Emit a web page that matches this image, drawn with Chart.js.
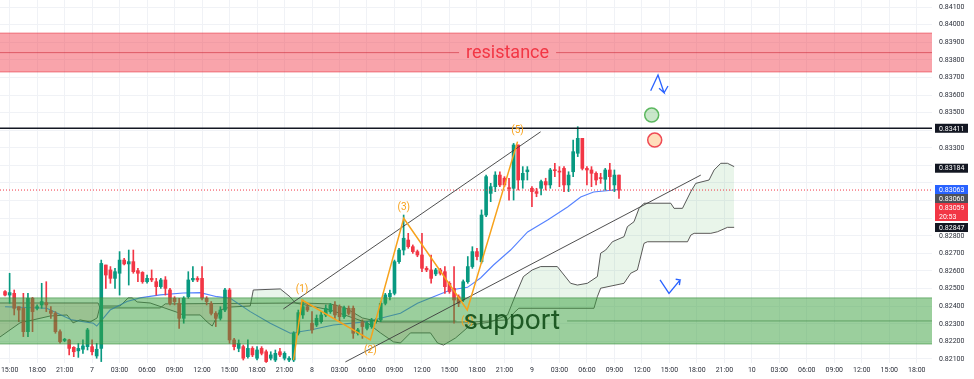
<!DOCTYPE html>
<html><head><meta charset="utf-8">
<script src="https://cdn.jsdelivr.net/npm/chart.js@4.4.1/dist/chart.umd.min.js"></script>
<style>
html,body{margin:0;padding:0;background:#fff;overflow:hidden;}
#wrap{position:relative;width:974px;height:379px;}
canvas{display:block;}
</style></head><body>
<div id="wrap"><canvas id="chart" width="974" height="379"></canvas></div>
<script>
// ---------- data (hours relative to day 7 00:00, prices) ----------
const firstBarHour = -9.5;     // first 30-minute candle: day 6, 14:30
const barHours = 0.5;          // 30-minute candles
const xRange = [-10.05, 91.66];
const yRange = [0.82077, 0.84140];

const opens = [
.82483,.82463,.82473,.82397,.82388,.82255,.82445,.82388,.82407,.82420,
.82374,.82359,.82255,.82205,.82208,.82166,.82146,.82155,.82170,.82170,
.82117,.82160,.82634,.82606,.82558,.82587,.82662,.82640,.82653,.82602,
.82592,.82539,.82558,.82539,.82511,.82549,.82492,.82445,.82416,.82331,
.82454,.82549,.82558,.82558,.82445,.82416,.82359,.82331,.82378,.82492,
.82208,.82160,.82170,.82113,.82160,.82104,.82160,.82141,.82104,.82094,
.82141,.82104,.82094,.82094,.82246,.82350,.82397,.82303,.82293,.82312,
.82350,.82369,.82407,.82397,.82340,.82388,.82388,.82246,.82312,.82274,
.82284,.82312,.82322,.82416,.82454,.82473,.82653,.82719,.82776,.82738,
.82710,.82691,.82615,.82606,.82583,.82606,.82596,.82530,.82501,.82454,
.82435,.82539,.82625,.82710,.82653,.82918,.83041,.83079,.83145,.83127,
.83072,.83070,.83316,.83117,.83164,.83070,.83051,.83070,.83108,.83089,
.83174,.83166,.83183,.83089,.83164,.83269,.83354,.83183,.83174,.83155,
.83127,.83121,.83174,.83089,.83145];
const highs = [
.82488,.82587,.82492,.82397,.82473,.82473,.82450,.82407,.82530,.82539,
.82397,.82369,.82265,.82217,.82212,.82170,.82189,.82208,.82274,.82208,
.82189,.82662,.82634,.82625,.82615,.82710,.82672,.82719,.82719,.82615,
.82596,.82577,.82606,.82558,.82558,.82568,.82501,.82454,.82445,.82454,
.82596,.82625,.82568,.82625,.82454,.82426,.82369,.82397,.82501,.82501,
.82217,.82208,.82179,.82208,.82170,.82170,.82170,.82151,.82141,.82151,
.82160,.82141,.82113,.82255,.82378,.82435,.82416,.82369,.82350,.82369,
.82407,.82416,.82426,.82407,.82401,.82401,.82401,.82274,.82322,.82312,
.82331,.82331,.82426,.82473,.82492,.82662,.82729,.82918,.82814,.82748,
.82719,.82814,.82625,.82691,.82615,.82615,.82625,.82539,.82625,.82464,
.82549,.82682,.82738,.82729,.82947,.83145,.83098,.83164,.83164,.83136,
.83127,.83325,.83316,.83193,.83193,.83079,.83070,.83117,.83127,.83183,
.83212,.83193,.83193,.83164,.83344,.83420,.83354,.83193,.83193,.83164,
.83155,.83183,.83212,.83174,.83145];
const lows = [
.82458,.82416,.82350,.82312,.82227,.82227,.82255,.82378,.82388,.82369,
.82331,.82246,.82189,.82198,.82123,.82113,.82109,.82132,.82151,.82123,
.82104,.82085,.82501,.82530,.82501,.82463,.82634,.82520,.82587,.82539,
.82530,.82530,.82539,.82463,.82501,.82463,.82407,.82407,.82274,.82303,
.82445,.82539,.82539,.82435,.82407,.82350,.82284,.82321,.82369,.82189,
.82151,.82141,.82094,.82104,.82113,.82094,.82123,.82080,.82094,.82085,
.82113,.82094,.82085,.82085,.82236,.82331,.82369,.82246,.82284,.82303,
.82340,.82359,.82331,.82312,.82331,.82350,.82217,.82236,.82217,.82265,
.82274,.82303,.82312,.82407,.82435,.82464,.82643,.82691,.82729,.82700,
.82681,.82596,.82596,.82530,.82573,.82577,.82473,.82473,.82303,.82397,
.82426,.82530,.82615,.82663,.82644,.82909,.82994,.83051,.83079,.83079,
.83003,.83003,.83060,.83070,.83117,.82966,.83022,.83032,.83060,.83070,
.83136,.83079,.83051,.83051,.83136,.83250,.83174,.83089,.83079,.83089,
.83098,.83060,.83060,.83051,.83013];
const closes = [
.82463,.82477,.82388,.82378,.82255,.82445,.82369,.82397,.82426,.82407,
.82359,.82255,.82198,.82212,.82160,.82141,.82160,.82174,.82265,.82141,
.82155,.82643,.82577,.82558,.82596,.82662,.82640,.82653,.82596,.82587,
.82539,.82558,.82549,.82511,.82549,.82501,.82416,.82426,.82331,.82445,
.82549,.82558,.82549,.82445,.82426,.82359,.82331,.82378,.82492,.82208,
.82170,.82189,.82104,.82160,.82123,.82151,.82132,.82085,.82123,.82132,
.82123,.82132,.82104,.82246,.82363,.82397,.82378,.82265,.82331,.82350,
.82388,.82407,.82350,.82340,.82388,.82359,.82246,.82265,.82284,.82303,
.82322,.82322,.82416,.82464,.82473,.82653,.82719,.82786,.82738,.82710,
.82691,.82615,.82606,.82558,.82606,.82587,.82511,.82483,.82435,.82416,
.82539,.82625,.82710,.82682,.82918,.83136,.83079,.83145,.83089,.83089,
.83068,.83316,.83117,.83155,.83174,.83051,.83041,.83108,.83089,.83174,
.83170,.83162,.83089,.83145,.83278,.83354,.83183,.83174,.83155,.83117,
.83125,.83174,.83136,.83145,.83059];

// moving average (blue): [hour, price]
const maLine = [[-9.5,.82397],[-4.95,.82388],[-2.22,.82322],[0.14,.82303],[0.51,.82287],[1.97,.82378],[3.79,.82426],[5.24,.82447],[7.43,.82464],[9.94,.82475],[11.8,.82477],[13.62,.82454],[15.08,.82445],[17.26,.82369],[19.44,.82303],[21.63,.82246],[23.82,.82265],[26.33,.82293],[30.04,.82312],[31.47,.82331],[33.65,.82360],[35.51,.82416],[37.26,.82454],[39.11,.82492],[40.97,.82507],[42.39,.82560],[43.81,.82634],[45.67,.82719],[47.53,.82822],[49.71,.82890],[51.89,.82964],[53.32,.83020],[54.73,.83049],[57.5,.83063]];

// Ichimoku cloud spans: [hour, price]
const spanA = [[-10.05,.82225],[-7.87,.82305],[-4.59,.82344],[-2.73,.82350],[-2.08,.82305],[-1.31,.82322],[-0.22,.82310],[0.55,.82333],[0.87,.82401],[3.06,.82401],[3.93,.82447],[4.37,.82447],[4.92,.82424],[6.34,.82418],[9.18,.82367],[9.94,.82350],[11.8,.82350],[12.56,.82310],[13.11,.82287],[13.98,.82378],[15.08,.82395],[17.26,.82401],[17.59,.82492],[20.54,.82498],[21.63,.82452],[22.18,.82418],[26.0,.82378],[30.04,.82305],[31.47,.82248],[32.89,.82197],[33.65,.82191],[34.74,.82248],[36.93,.82248],[37.69,.82191],[38.35,.82179],[39.66,.82219],[41.3,.82293],[43.48,.82310],[45.34,.82350],[46.22,.82464],[47.07,.82568],[48.04,.82606],[48.95,.82625],[50.77,.82625],[52.22,.82530],[52.96,.82520],[54.05,.82530],[55.14,.82568],[55.5,.82701],[56.05,.82719],[56.78,.82766],[58.05,.82795],[58.42,.82852],[59.14,.82880],[59.69,.82956],[60.23,.82985],[63.15,.82985],[63.51,.82956],[64.43,.82956],[65.34,.83051],[65.88,.83098],[67.33,.83117],[67.88,.83174],[68.61,.83212],[69.34,.83212],[70.07,.83193]];
const spanB = [[-10.05,.82418],[0.66,.82418],[0.87,.82390],[7.43,.82390],[7.98,.82413],[22.72,.82418],[26.0,.82413],[27.64,.82390],[29.5,.82333],[31.47,.82310],[41.3,.82310],[43.48,.82316],[45.34,.82322],[46.0,.82360],[46.57,.82388],[54.77,.82388],[55.14,.82454],[55.5,.82502],[58.05,.82530],[58.78,.82587],[59.51,.82606],[60.23,.82757],[60.6,.82766],[64.98,.82766],[65.34,.82804],[65.7,.82814],[67.52,.82814],[68.25,.82823],[69.34,.82848],[70.07,.82848]];

// Elliott wave count
const wavePoints = [[21.99,.82094],[22.91,.82435],[30.37,.82208],[34.01,.82899],[40.94,.82378],[46.43,.83335]];
const waveLabels = ['', '(1)', '(2)', '(3)', '(4)', '(5)'];
// trend channel
const channelUpper = [[20.87,.82384],[48.95,.83391]];
const channelLower = [[27.64,.82083],[66.43,.83145]];
// zones and levels
const resistanceZone = [0.83731, 0.83952], resistanceMid = 0.83841;
const supportZone = [0.82185, 0.82447], supportMid = 0.82316;
const resistanceLabelHour = 45.34, supportLabelHour = 45.8;
const keyLevel = 0.83411;
const lastPrice = 0.83060;
// markers
const circleMarks = [[61.07, .83486], [61.40, .83344]];
const arrowOne = [[60.96,.83624],[61.76,.83714],[62.42,.83613],[61.87,.83638],[62.42,.83613],[62.85,.83651]];
const arrowTwo = [[61.98,.82549],[62.96,.82473],[64.17,.82549],[63.69,.82553],[64.17,.82549],[64.09,.82520]];
// price-scale tags
const priceTags = [
  {price: 0.83411, text: '0.83411', bg: '#131722'},
  {price: 0.83184, text: '0.83184', bg: '#131722'},
  {price: 0.83063, text: '0.83063', bg: '#2962ff'},
  {price: 0.83060, text: '0.83060', bg: '#4e5058'},
  {price: 0.83059, text: '0.83059', sub: '20:53', bg: '#f23645'},
  {price: 0.82847, text: '0.82847', bg: '#131722'}
];
const hiddenTicks = [0.834, 0.832, 0.831, 0.830];
const firstDay = 7;

// ---------- build ----------
const FONT = "Roboto, 'Liberation Sans', sans-serif";
const times = opens.map((_, i) => firstBarHour + i * barHours);
const UP = '#089981', DOWN = '#f23645';
const candleColors = opens.map((o, i) => closes[i] >= o ? UP : DOWN);
const toXY = arr => arr.map(([x, y]) => ({x, y}));

function hLine(ctx, a, yPix, color, width, dash, gap) {
  ctx.save();
  ctx.strokeStyle = color; ctx.lineWidth = width; ctx.setLineDash(dash || []);
  ctx.beginPath();
  if (gap) {
    ctx.moveTo(a.left, yPix); ctx.lineTo(gap[0], yPix);
    ctx.moveTo(gap[1], yPix); ctx.lineTo(a.right, yPix);
  } else { ctx.moveTo(a.left, yPix); ctx.lineTo(a.right, yPix); }
  ctx.stroke(); ctx.restore();
}

const zoneStyles = [
  {zone: resistanceZone, mid: resistanceMid, at: resistanceLabelHour, text: 'resistance', fill: 'rgba(242,54,69,0.45)', edge: 'rgba(230,40,55,0.55)', midc: 'rgba(200,30,45,0.55)', font: '18px ' + FONT, color: '#f23645'},
  {zone: supportZone, mid: supportMid, at: supportLabelHour, text: 'support', fill: 'rgba(56,160,60,0.5)', edge: 'rgba(56,142,60,0.6)', midc: 'rgba(40,120,45,0.5)', font: '28px ' + FONT, color: '#1e5a24'}
];

const overlayPlugin = {
  id: 'overlay',
  afterDatasetDraw(chart, args) {
    if (chart.data.datasets[args.index].id !== 'bodies') return;
    const {ctx, chartArea: a, scales: {x, y}} = chart;
    ctx.save();
    ctx.beginPath(); ctx.rect(a.left, a.top, a.right - a.left, a.bottom - a.top); ctx.clip();
    zoneStyles.forEach(z => {
      const yT = y.getPixelForValue(z.zone[1]), yB = y.getPixelForValue(z.zone[0]), yM = y.getPixelForValue(z.mid);
      ctx.fillStyle = z.fill; ctx.fillRect(a.left, yT, a.right - a.left, yB - yT);
      hLine(ctx, a, yT, z.edge, 1); hLine(ctx, a, yB, z.edge, 1);
      ctx.font = z.font;
      const w = ctx.measureText(z.text).width, cx = x.getPixelForValue(z.at);
      hLine(ctx, a, yM, z.midc, 1, null, [cx - w / 2 - 7, cx + w / 2 + 7]);
    });
    hLine(ctx, a, y.getPixelForValue(keyLevel), '#131722', 1.5);
    hLine(ctx, a, y.getPixelForValue(lastPrice), '#f23645', 1, [1, 2]);
    ctx.restore();
  },
  afterDatasetsDraw(chart) {
    const {ctx, scales: {x, y}} = chart;
    ctx.save();
    ctx.font = '10px ' + FONT; ctx.fillStyle = '#f7a21b'; ctx.textAlign = 'center'; ctx.textBaseline = 'middle';
    wavePoints.forEach((p, i) => {
      if (!waveLabels[i]) return;
      const peak = p[1] > wavePoints[i - 1][1];
      ctx.fillText(waveLabels[i], x.getPixelForValue(p[0]), y.getPixelForValue(p[1]) + (peak ? -11 : 11));
    });
    zoneStyles.forEach(z => {
      ctx.font = z.font; ctx.fillStyle = z.color; ctx.textAlign = 'center'; ctx.textBaseline = 'middle';
      ctx.fillText(z.text, x.getPixelForValue(z.at), y.getPixelForValue(z.mid) + 1);
    });
    ctx.restore();
  },
  afterDraw(chart) {
    const {ctx, chartArea: a, scales: {y}} = chart;
    ctx.save();
    ctx.font = '7px ' + FONT; ctx.textBaseline = 'middle'; ctx.textAlign = 'left';
    const lineH = 9;
    let prevBottom = -Infinity;
    priceTags.slice().sort((m, n) => n.price - m.price).forEach(t => {
      const h = t.sub ? lineH * 2 : lineH;
      let top = y.getPixelForValue(t.price) - lineH / 2;
      if (top < prevBottom) top = prevBottom;
      const left = a.right + 3, w = 33;
      ctx.fillStyle = t.bg; ctx.fillRect(left, top, w, h);
      ctx.fillStyle = '#ffffff';
      ctx.fillText(t.text, left + 4, top + lineH / 2 + 0.5);
      if (t.sub) ctx.fillText(t.sub, left + 4, top + lineH * 1.5 + 0.5);
      prevBottom = top + h;
    });
    ctx.restore();
  }
};

const lineDs = (id, data, color, width, order, extra) => Object.assign({
  id, type: 'line', data: toXY(data), borderColor: color, borderWidth: width,
  pointRadius: 0, tension: 0, fill: false, order
}, extra || {});

new Chart(document.getElementById('chart'), {
  type: 'bar',
  data: {
    datasets: [
      lineDs('spanA', spanA, 'rgba(60,60,60,0.85)', 1, 40, {fill: {target: 1, above: 'rgba(76,175,80,0.12)', below: 'rgba(242,54,69,0.13)'}}),
      lineDs('spanB', spanB, 'rgba(60,60,60,0.85)', 1, 41),
      lineDs('ma', maLine, 'rgba(41,98,255,0.8)', 1.1, 30),
      {id: 'wicks', type: 'bar', data: times.map((t, i) => ({x: t, y: [lows[i], highs[i]]})),
       backgroundColor: candleColors, barThickness: 1, grouped: false, order: 21},
      {id: 'bodies', type: 'bar', data: times.map((t, i) => ({x: t, y: [opens[i], closes[i]]})),
       backgroundColor: candleColors, barThickness: 3, minBarLength: 1, grouped: false, order: 20},
      lineDs('chanU', channelUpper, 'rgba(60,60,60,0.9)', 1, 5),
      lineDs('chanL', channelLower, 'rgba(60,60,60,0.9)', 1, 5),
      lineDs('wave', wavePoints, '#f7a21b', 1.5, 4),
      lineDs('arrow1', arrowOne, '#2962ff', 1.3, 3),
      lineDs('arrow2', arrowTwo, '#2962ff', 1.3, 3),
      {id: 'circles', type: 'line', data: toXY(circleMarks), showLine: false, order: 2,
       pointRadius: 7, pointBorderWidth: 1.5,
       pointBackgroundColor: ['rgba(76,175,80,0.3)', 'rgba(255,160,60,0.35)'],
       pointBorderColor: ['#5cb860', '#ef4b55']}
    ]
  },
  options: {
    responsive: false, animation: false, devicePixelRatio: 1, events: [],
    layout: {padding: 0, autoPadding: false},
    plugins: {legend: {display: false}, tooltip: {enabled: false}},
    scales: {
      x: {
        type: 'linear', min: xRange[0], max: xRange[1], offset: false,
        grid: {color: '#f0f2f6', drawTicks: false, offset: false},
        border: {display: false},
        ticks: {
          stepSize: 3, includeBounds: false, autoSkip: false, maxRotation: 0, padding: 3,
          color: '#2a2e39', font: {size: 7, family: FONT},
          callback(v) {
            const hh = ((Math.round(v) % 24) + 24) % 24;
            if (hh === 0) return String(firstDay + Math.round(v / 24));
            return String(hh).padStart(2, '0') + ':00';
          }
        },
        afterFit(s) { s.height = 16; s.paddingLeft = 0; s.paddingRight = 0; }
      },
      y: {
        position: 'right', min: yRange[0], max: yRange[1],
        grid: {color: '#f0f2f6', drawTicks: false},
        border: {display: false},
        ticks: {
          stepSize: 0.001, includeBounds: false, padding: 7,
          color: '#2a2e39', font: {size: 7, family: FONT},
          callback(v) {
            if (hiddenTicks.some(h => Math.abs(h - v) < 1e-6)) return '';
            return v.toFixed(5);
          }
        },
        afterFit(s) { s.width = 42; s.paddingTop = 0; s.paddingBottom = 0; }
      }
    }
  },
  plugins: [overlayPlugin]
});
</script>
</body></html>
